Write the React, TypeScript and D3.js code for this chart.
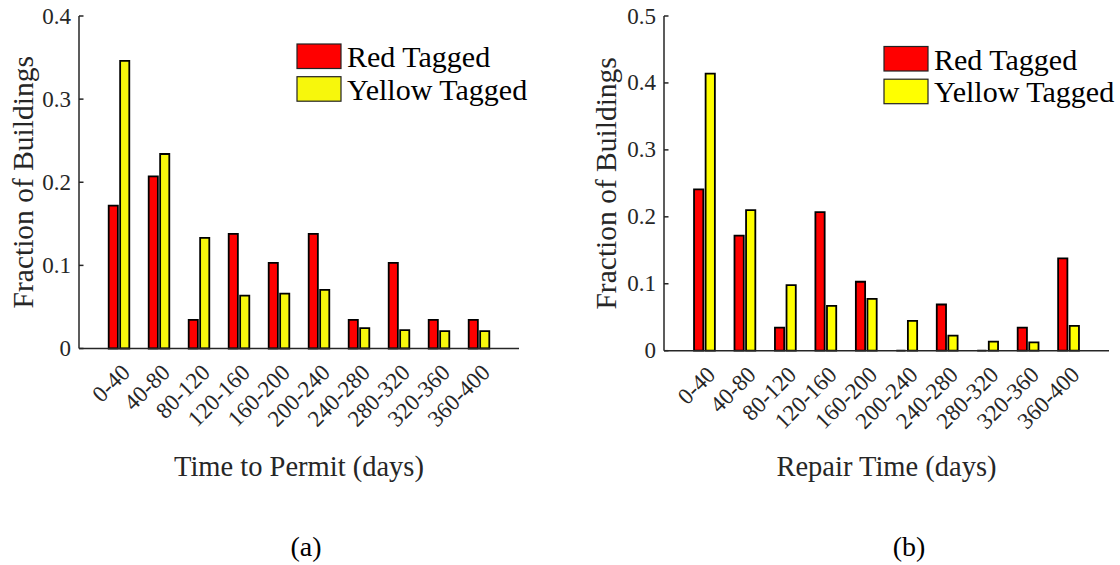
import React from "react";
import * as d3 from "d3";

const categories = ["0-40", "40-80", "80-120", "120-160", "160-200", "200-240", "240-280", "280-320", "320-360", "360-400"];
const permitRed = [0.172, 0.207, 0.0345, 0.138, 0.103, 0.138, 0.0345, 0.103, 0.0345, 0.0345];
const permitYellow = [0.346, 0.234, 0.133, 0.0635, 0.066, 0.0705, 0.0245, 0.022, 0.021, 0.021];
const repairRed = [0.241, 0.172, 0.0345, 0.207, 0.103, 0, 0.069, 0, 0.0345, 0.138];
const repairYellow = [0.414, 0.21, 0.098, 0.067, 0.0775, 0.0445, 0.0225, 0.0135, 0.0125, 0.037];
const permitTicks = [0, 0.1, 0.2, 0.3, 0.4];
const repairTicks = [0, 0.1, 0.2, 0.3, 0.4, 0.5];
const seriesNames = ["Red Tagged", "Yellow Tagged"];

const FONT = "'Liberation Serif', 'Times New Roman', serif";
const AXIS = "#262626";

type Panel = {
  red: number[];
  yellow: number[];
  ticks: number[];
  ymax: number;
  xTitle: string;
  caption: string;
  x0: number;
  x1: number;
  y0: number;
  y1: number;
  yellowColor: string;
  legendX: number;
  legendY: number;
  yLabelX: number;
  captionX: number;
};

const panels: Panel[] = [
  {
    red: permitRed, yellow: permitYellow, ticks: permitTicks, ymax: 0.4,
    xTitle: "Time to Permit (days)", caption: "(a)",
    x0: 79, x1: 519, y0: 348.5, y1: 16, yellowColor: "#f7f70c",
    legendX: 297, legendY: 44, yLabelX: 33, captionX: 306,
  },
  {
    red: repairRed, yellow: repairYellow, ticks: repairTicks, ymax: 0.5,
    xTitle: "Repair Time (days)", caption: "(b)",
    x0: 664, x1: 1109, y0: 350.7, y1: 16, yellowColor: "#ffff00",
    legendX: 884, legendY: 46.5, yLabelX: 616, captionX: 909,
  },
];

function barPath(xa: number, xb: number, ya: number, yb: number) {
  const p = d3.path();
  p.moveTo(xa, ya);
  p.lineTo(xb, ya);
  p.lineTo(xb, yb);
  p.lineTo(xa, yb);
  p.closePath();
  return p.toString();
}

function Chart({ p }: { p: Panel }) {
  const x = d3.scaleLinear().domain([0, categories.length + 1]).range([p.x0, p.x1]);
  const y = d3.scaleLinear().domain([0, p.ymax]).range([p.y0, p.y1]);
  const unit = x(1) - x(0);
  const bw = unit * 0.229;
  const off = unit * 0.143;
  const series = [
    { vals: p.red, color: "#ff0000", dx: -off },
    { vals: p.yellow, color: p.yellowColor, dx: off },
  ];
  const yMid = (p.y0 + p.y1) / 2;
  return (
    <g>
      {series.map((s, si) =>
        s.vals.map((v, i) => {
          const c = x(i + 1) + s.dx;
          return (
            <path
              key={`${si}-${i}`}
              d={barPath(c - bw / 2, c + bw / 2, y(0), y(v))}
              fill={s.color}
              stroke="#000"
              strokeWidth={1.8}
            />
          );
        })
      )}
      <line x1={p.x0} x2={p.x1} y1={y(0)} y2={y(0)} stroke={AXIS} strokeWidth={1.5} />
      <line x1={p.x0} x2={p.x0} y1={y(0)} y2={y(p.ymax)} stroke={AXIS} strokeWidth={1.5} />
      {p.ticks.map((t) => (
        <g key={t}>
          <line x1={p.x0} x2={p.x0 + 4.5} y1={y(t)} y2={y(t)} stroke={AXIS} strokeWidth={1.5} />
          <text
            x={p.x0 - 8}
            y={y(t)}
            textAnchor="end"
            dominantBaseline="central"
            fontSize={23}
            fontFamily={FONT}
            fill={AXIS}
          >
            {d3.format("")(t)}
          </text>
        </g>
      ))}
      {categories.map((c, i) => {
        const ax = x(i + 1) + 7;
        const ay = y(0) + 20;
        return (
          <text
            key={c}
            transform={`translate(${ax},${ay}) rotate(-45)`}
            textAnchor="end"
            dominantBaseline="central"
            fontSize={23}
            fontFamily={FONT}
            fill={AXIS}
          >
            {c}
          </text>
        );
      })}
      <text
        x={(p.x0 + p.x1) / 2}
        y={476}
        textAnchor="middle"
        fontSize={28.5}
        fontFamily={FONT}
        fill={AXIS}
      >
        {p.xTitle}
      </text>
      <text
        transform={`translate(${p.yLabelX},${yMid}) rotate(-90)`}
        textAnchor="middle"
        fontSize={29.5}
        fontFamily={FONT}
        fill={AXIS}
      >
        Fraction of Buildings
      </text>
      {seriesNames.map((n, i) => (
        <g key={n}>
          <rect
            x={p.legendX}
            y={p.legendY + i * 32.7}
            width={44}
            height={24.5}
            fill={i === 0 ? "#ff0000" : p.yellowColor}
            stroke="#222"
            strokeWidth={1.2}
          />
          <text
            x={p.legendX + 50}
            y={p.legendY + i * 32.7 + 23}
            fontSize={30}
            fontFamily={FONT}
            fill="#000"
          >
            {n}
          </text>
        </g>
      ))}
      <text x={p.captionX} y={556} textAnchor="middle" fontSize={28} fontFamily={FONT} fill="#000">
        {p.caption}
      </text>
    </g>
  );
}

export default function App() {
  return (
    <svg
      width={1120}
      height={565}
      style={{ position: "absolute", left: 0, top: 0, background: "#fff" }}
    >
      <rect width={1120} height={565} fill="#fff" />
      {panels.map((p, i) => (
        <Chart key={i} p={p} />
      ))}
    </svg>
  );
}
